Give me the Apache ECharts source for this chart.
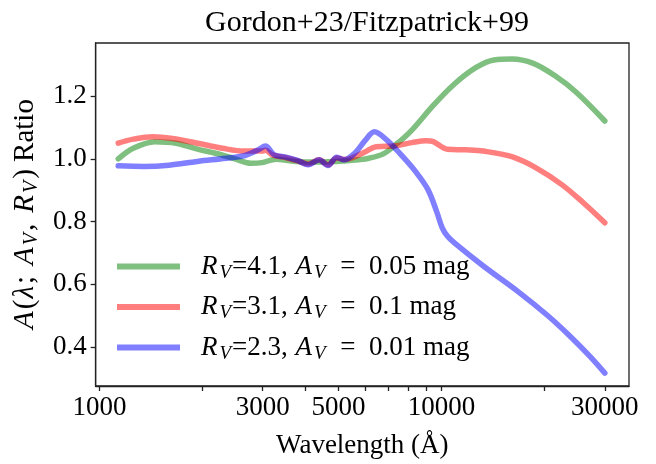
<!DOCTYPE html>
<html>
<head>
<meta charset="utf-8">
<script src="https://cdn.jsdelivr.net/npm/echarts@6/dist/echarts.min.js"></script>
<style>
html,body{margin:0;padding:0;background:#fff;}
#chart{width:656px;height:464px;}
</style>
</head>
<body>
<div id="chart"></div>
<script>
// ---- data (wavelength in Angstrom, ratio) ----
const greenWave = [1135,1256,1450,1676,1935,2183,2461,2775,2983,3284,3600,3981,4400,4900,5400,5709,6136,6754,7436,8188,9459,10925,12620,14230,16050,18540,21410,24740,30000];
const greenVal  = [1.000,1.034,1.055,1.050,1.031,1.018,1.002,0.986,0.988,0.999,0.994,0.990,0.990,0.992,0.995,0.997,1.002,1.016,1.050,1.092,1.171,1.240,1.292,1.316,1.319,1.305,1.266,1.213,1.121];

const redWave = [1135,1256,1433,1636,1935,2290,2646,2983,3056,3206,3529,3794,4078,4383,4655,4942,5186,5442,5990,6437,7263,8188,9015,9459,10411,11740,13245,16050,18990,22460,25960,30000];
const redVal  = [1.050,1.063,1.071,1.065,1.050,1.034,1.025,1.025,1.028,1.013,1.003,0.994,0.984,0.997,0.981,1.003,0.998,1.002,1.023,1.039,1.041,1.052,1.058,1.055,1.031,1.029,1.025,1.007,0.970,0.918,0.860,0.796];

const blueWave = [1135,1350,1597,1935,2346,2646,2912,3056,3245,3529,3794,4078,4383,4655,4942,5186,5574,5990,6361,6920,7617,8388,9124,9687,10044,10411,10925,13245,16840,20410,23580,27230,30000];
const blueVal  = [0.978,0.976,0.980,0.992,1.002,1.010,1.029,1.041,1.013,1.005,0.995,0.981,0.997,0.979,1.005,0.997,1.018,1.060,1.087,1.060,1.013,0.960,0.902,0.830,0.780,0.753,0.731,0.658,0.574,0.500,0.437,0.368,0.316];

const seriesNames = ['R_V=4.1, A_V = 0.05 mag','R_V=3.1, A_V = 0.1 mag','R_V=2.3, A_V = 0.01 mag'];
const legendRich  = ['{i|R}{s|V}{n|=4.1, }{i|A}{s|V}{n|  =  0.05 mag}','{i|R}{s|V}{n|=3.1, }{i|A}{s|V}{n|  =  0.1 mag}','{i|R}{s|V}{n|=2.3, }{i|A}{s|V}{n|  =  0.01 mag}'];
const xTickLabels = [1000,3000,5000,10000,30000];
const xTicks = [1000,2000,3000,4000,5000,6000,7000,8000,9000,10000,20000,30000];
const yTicks = [0.4,0.6,0.8,1.0,1.2];
const titleText = 'Gordon+23/Fitzpatrick+99';

const FONT = '"Liberation Serif", "DejaVu Serif", serif';
const pair = (w, v) => w.map((x, i) => [x, v[i]]);
const colors = ['rgba(0,128,0,0.5)','rgba(255,0,0,0.5)','rgba(0,0,255,0.5)'];
const datasets = [pair(greenWave, greenVal), pair(redWave, redVal), pair(blueWave, blueVal)];

const chart = echarts.init(document.getElementById('chart'), null, {renderer:'canvas'});
chart.setOption({
  animation: false,
  backgroundColor: '#fff',
  title: {
    text: titleText, left: 362, top: 3, textAlign: 'center',
    textStyle: {fontFamily: FONT, fontSize: 30, fontWeight: 'normal', color: '#000'}
  },
  grid: {left: 95, right: 27, top: 43, bottom: 75, show: true, borderColor: '#222', borderWidth: 1.3},
  xAxis: {
    type: 'log', logBase: 10, min: 975, max: 35300,
    name: 'Wavelength (Å)', nameLocation: 'middle', nameGap: 46,
    nameTextStyle: {fontFamily: FONT, fontSize: 27, color: '#000'},
    axisLine: {show: true, onZero: false, lineStyle: {color: '#222', width: 1.3}},
    axisTick: {show: true, length: 5, customValues: xTicks, lineStyle: {color: '#222', width: 1.3}},
    minorTick: {show: false},
    splitLine: {show: false},
    axisLabel: {customValues: xTickLabels, margin: 8, fontFamily: FONT, fontSize: 27, color: '#000', formatter: v => String(Math.round(v))}
  },
  yAxis: {
    type: 'value', min: 0.275, max: 1.37,
    name: '{i|A}{n|(}{i|λ}{p|;}{i|A}{s|V}{p|,}{i|R}{s|V}{n|) Ratio}',
    nameLocation: 'middle', nameRotate: 90, nameGap: 42,
    nameTextStyle: {
      fontFamily: FONT, fontSize: 29, color: '#000',
      rich: {
        i: {fontFamily: FONT, fontSize: 29, fontStyle: 'italic', lineHeight: 34, padding: [0,2,0,1], color: '#000'},
        n: {fontFamily: FONT, fontSize: 29, lineHeight: 34, color: '#000'},
        p: {fontFamily: FONT, fontSize: 29, lineHeight: 34, padding: [0,10,0,0], color: '#000'},
        s: {fontFamily: FONT, fontSize: 20, fontStyle: 'italic', lineHeight: 20, padding: [14,2,0,0], color: '#000'}
      }
    },
    axisLine: {show: true, lineStyle: {color: '#222', width: 1.3}},
    axisTick: {show: true, length: 5, customValues: yTicks, lineStyle: {color: '#222', width: 1.3}},
    splitLine: {show: false},
    axisLabel: {customValues: yTicks, margin: 9, fontFamily: FONT, fontSize: 27, color: '#000', formatter: v => v.toFixed(1)}
  },
  legend: {
    orient: 'vertical', left: 117, top: 251, itemGap: 9.5, padding: 0,
    itemWidth: 63, itemHeight: 6, icon: 'rect',
    data: seriesNames,
    formatter: name => legendRich[seriesNames.indexOf(name)],
    textStyle: {
      fontFamily: FONT, fontSize: 27, color: '#000', padding: [0,0,0,15],
      rich: {
        i: {fontFamily: FONT, fontSize: 27, fontStyle: 'italic', lineHeight: 31, padding: [0,2,0,1], color: '#000'},
        n: {fontFamily: FONT, fontSize: 27, lineHeight: 31, color: '#000'},
        s: {fontFamily: FONT, fontSize: 19, fontStyle: 'italic', lineHeight: 19, padding: [12,1,0,0], color: '#000'}
      }
    }
  },
  series: seriesNames.map((n, k) => ({
    name: n, type: 'line', data: datasets[k], showSymbol: false, smooth: 0.35,
    color: colors[k],
    lineStyle: {color: colors[k], width: 5.5, cap: 'round', join: 'round'}
  }))
});
</script>
</body>
</html>
